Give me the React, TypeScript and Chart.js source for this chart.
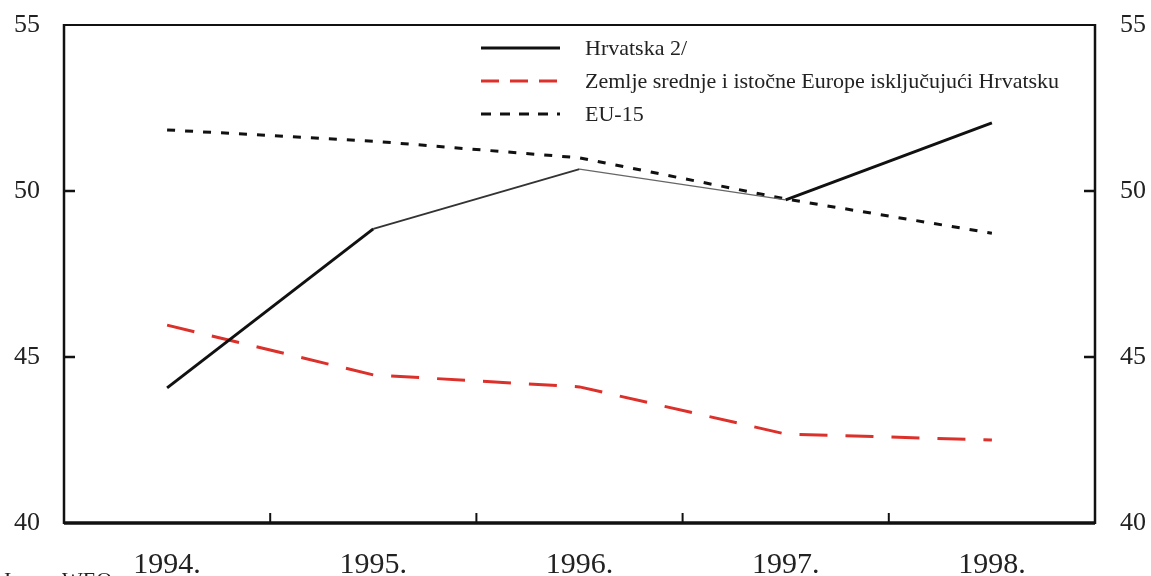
import { useEffect, useRef } from 'react';
import { Chart, registerables } from 'chart.js';

Chart.register(...registerables);

const years = ['1994.', '1995.', '1996.', '1997.', '1998.'];
const hrvatska = [44.07, 48.86, 50.66, 49.73, 52.05];
const ceeExCroatia = [45.96, 44.46, 44.1, 42.68, 42.5];
const eu15 = [51.84, 51.5, 51.0, 49.76, 48.73];
const seriesLabels = [
  'Hrvatska 2/',
  'Zemlje srednje i istočne Europe isključujući Hrvatsku',
  'EU-15',
];
const yMin = 40;
const yMax = 55;
const yStep = 5;
const sourceNote = 'Izvor: WEO';

const FONT = "'Liberation Serif', 'Times New Roman', serif";

const framePlugin = {
  id: 'frame',
  afterDraw(chart: any) {
    const { ctx, chartArea } = chart;
    const { left, right, top, bottom } = chartArea;
    const yScale = chart.scales.y;
    const xScale = chart.scales.x;
    ctx.save();
    ctx.setLineDash([]);
    ctx.strokeStyle = '#111';
    ctx.lineCap = 'butt';
    ctx.lineWidth = 2.5;
    ctx.beginPath();
    ctx.moveTo(left, top - 1);
    ctx.lineTo(left, bottom + 1);
    ctx.moveTo(right, top - 1);
    ctx.lineTo(right, bottom + 1);
    ctx.stroke();
    ctx.lineWidth = 2;
    ctx.beginPath();
    ctx.moveTo(left, top);
    ctx.lineTo(right, top);
    ctx.stroke();
    ctx.lineWidth = 3.5;
    ctx.beginPath();
    ctx.moveTo(left, bottom);
    ctx.lineTo(right, bottom);
    ctx.stroke();
    ctx.lineWidth = 2.5;
    for (let v = yMin + yStep; v < yMax; v += yStep) {
      const py = yScale.getPixelForValue(v);
      ctx.beginPath();
      ctx.moveTo(left, py);
      ctx.lineTo(left + 11, py);
      ctx.moveTo(right, py);
      ctx.lineTo(right - 11, py);
      ctx.stroke();
    }
    ctx.lineWidth = 2;
    for (let i = 1; i < years.length; i++) {
      const px = (xScale.getPixelForValue(i - 1) + xScale.getPixelForValue(i)) / 2;
      ctx.beginPath();
      ctx.moveTo(px, bottom);
      ctx.lineTo(px, bottom - 10);
      ctx.stroke();
    }
    const rows = [48, 81, 114];
    chart.data.datasets.forEach((ds: any, i: number) => {
      const y = rows[i];
      ctx.strokeStyle = ds.borderColor;
      ctx.lineWidth = 3;
      ctx.setLineDash(ds.legendDash || []);
      ctx.beginPath();
      ctx.moveTo(481, y);
      ctx.lineTo(560, y);
      ctx.stroke();
      ctx.setLineDash([]);
      ctx.fillStyle = '#222';
      ctx.font = `22px ${FONT}`;
      ctx.textBaseline = 'middle';
      ctx.textAlign = 'left';
      ctx.fillText(ds.label, 585, y + 1);
    });
    ctx.fillStyle = '#222';
    ctx.font = `22px ${FONT}`;
    ctx.textBaseline = 'top';
    ctx.fillText(sourceNote, 4, 570);
    ctx.restore();
  },
};

const fitY = (w: number) => (s: any) => {
  s.width = w;
  s.paddingTop = 0;
  s.paddingBottom = 0;
};

export default function App() {
  const ref = useRef<HTMLCanvasElement | null>(null);

  useEffect(() => {
    document.body.style.margin = '0';
    const canvas = ref.current;
    if (!canvas) return;
    const chart = new Chart(canvas, {
      type: 'line',
      data: {
        labels: years,
        datasets: [
          {
            label: seriesLabels[0],
            data: hrvatska,
            borderColor: '#111',
            borderWidth: 3,
            pointRadius: 0,
            tension: 0,
            fill: false,
            segment: {
              borderWidth: (c: any) => (c.p0DataIndex === 2 ? 1.3 : c.p0DataIndex === 1 ? 2 : 3),
              borderColor: (c: any) => (c.p0DataIndex === 2 ? '#666' : c.p0DataIndex === 1 ? '#333' : '#111'),
            },
          } as any,
          {
            label: seriesLabels[1],
            data: ceeExCroatia,
            borderColor: '#dc302b',
            borderWidth: 3,
            borderDash: [28, 18],
            legendDash: [18, 11],
            pointRadius: 0,
            tension: 0,
            fill: false,
          } as any,
          {
            label: seriesLabels[2],
            data: eu15,
            borderColor: '#111',
            borderWidth: 3,
            borderDash: [8, 10],
            legendDash: [10, 9],
            pointRadius: 0,
            tension: 0,
            fill: false,
          } as any,
        ],
      },
      options: {
        responsive: false,
        animation: false,
        layout: { padding: { top: 25, left: 0, right: 0, bottom: 0 } },
        plugins: {
          legend: { display: false },
          tooltip: { enabled: false },
        },
        scales: {
          x: {
            type: 'category',
            offset: true,
            grid: { display: false, drawTicks: false },
            border: { display: false },
            ticks: {
              font: { family: FONT, size: 30 },
              color: '#222',
              padding: 24,
              maxRotation: 0,
            },
            afterFit: (s: any) => {
              s.height = 53;
              s.paddingLeft = 0;
              s.paddingRight = 0;
            },
          },
          y: {
            position: 'left',
            min: yMin,
            max: yMax,
            grid: { display: false, drawTicks: false },
            border: { display: false },
            ticks: {
              stepSize: yStep,
              font: { family: FONT, size: 26 },
              color: '#222',
              padding: 24,
            },
            afterFit: fitY(64),
          },
          y2: {
            position: 'right',
            min: yMin,
            max: yMax,
            grid: { display: false, drawTicks: false },
            border: { display: false },
            ticks: {
              stepSize: yStep,
              font: { family: FONT, size: 26 },
              color: '#222',
              padding: 25,
            },
            afterFit: fitY(56),
          },
        },
      } as any,
      plugins: [framePlugin],
    });
    return () => chart.destroy();
  }, []);

  return (
    <div style={{ position: 'absolute', left: 0, top: 0, width: 1151, height: 576, background: '#fff', overflow: 'hidden' }}>
      <canvas ref={ref} width={1151} height={576} style={{ display: 'block' }} />
    </div>
  );
}
